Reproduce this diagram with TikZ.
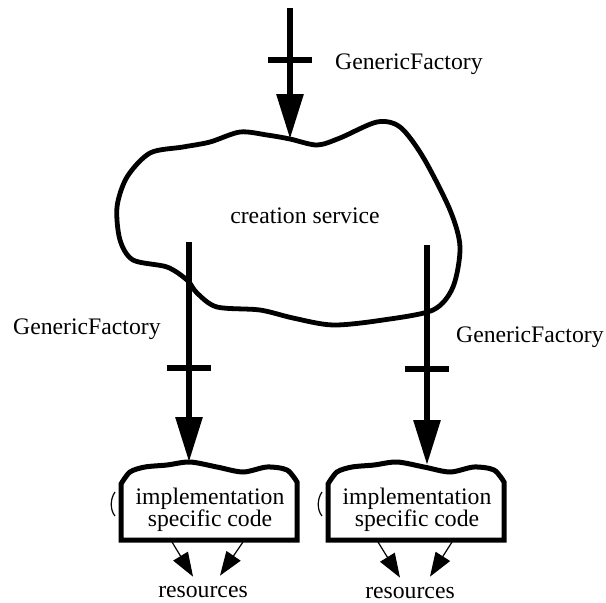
\documentclass[tikz,border=0pt]{standalone}
\usepackage{fontspec}
\setmainfont{Liberation Serif}
\usetikzlibrary{arrows.meta}
\tikzset{
    iface/.style = {
        line width=6pt,
        -{Triangle[length=45pt,width=26pt]}
    },
    crossbar/.style = {
        rectangle, fill=black, inner sep=0pt,
        minimum width=44pt, minimum height=6pt
    },
    cloudline/.style = {
        line width=4.8pt, line join=round
    },
    boxline/.style = {
        line width=5pt
    },
    resarrow/.style = {
        line width=1.2pt,
        -{Triangle[length=24pt,width=17pt]}
    },
    txt/.style = {
        font=\fontsize{23.7}{22}\selectfont,
        inner sep=0pt, align=center
    }
}

\begin{document}
\begin{tikzpicture}[x=1pt, y=-1pt]
\useasboundingbox (0,0) rectangle (606,603);

% creation service cloud
\draw [cloudline] plot[smooth cycle] coordinates {
    (290,139) (317,145) (340,138) (377,122) (400,127) (423,157) (450,210)
    (460,247) (453,287) (433,310) (383,320) (333,325) (293,318) (260,310)
    (217,307) (197,293) (187,280) (167,267) (133,260) (120,240) (117,207)
    (127,177) (150,153) (183,147) (210,142) (240,132) (267,135)};
\node (creation) [txt, anchor=base] at (305,223) {creation service};

% implementation boxes
\draw [boxline] (121,540) -- (121,484) -- plot[smooth] coordinates {
    (121,484) (130,472) (145,467) (167,465) (190,462) (217,467)
    (243,472) (267,467) (287,470) (297,482)} -- (297,540) -- cycle;
\draw [line width=1.2pt] (115,492) .. controls (110,499) and (110,510) .. (115,516);
\node (implL) [txt] at (210,510) {implementation\\specific code};

\begin{scope}[xshift=207pt]
\draw [boxline] (121,540) -- (121,484) -- plot[smooth] coordinates {
    (121,484) (130,472) (145,467) (167,465) (190,462) (217,467)
    (243,472) (267,467) (287,470) (297,482)} -- (297,540) -- cycle;
\draw [line width=1.2pt] (115,492) .. controls (110,499) and (110,510) .. (115,516);
\end{scope}
\node (implR) [txt] at (417,510) {implementation\\specific code};

% resources
\node (resL) [txt, anchor=base] at (203,597) {resources};
\node (resR) [txt, anchor=base] at (410,598) {resources};

\coordinate (in) at (290,8);
\coordinate (cloudtop) at (290,139);
\coordinate (outL) at (189,242);
\coordinate (outR) at (427,245);
\coordinate (boxLtop) at (189,462);
\coordinate (boxRtop) at (427,465);

% GenericFactory interfaces
\draw [iface] (in) -- node[pos=0.397, crossbar] (barT) {} (cloudtop);
\draw [iface] (outL) -- node[pos=0.573, crossbar] (barL) {} (boxLtop);
\draw [iface] (outR) -- node[pos=0.564, crossbar] (barR) {} (boxRtop);

\node (gfT) [txt, anchor=base west] at (335,69) {GenericFactory};
\node (gfL) [txt, anchor=base west] at (13,334) {GenericFactory};
\node (gfR) [txt, anchor=base west] at (456,342) {GenericFactory};

% resource arrows
\coordinate (rL1) at (172,542);
\coordinate (rL2) at (243,542);
\coordinate (rR1) at (378,542);
\coordinate (rR2) at (452,542);
\draw [resarrow] (rL1) -- ([xshift=-10pt,yshift=9pt]resL.north);
\draw [resarrow] (rL2) -- ([xshift=17pt,yshift=10pt]resL.north);
\draw [resarrow] (rR1) -- ([xshift=-10pt,yshift=9pt]resR.north);
\draw [resarrow] (rR2) -- ([xshift=20pt,yshift=10pt]resR.north);

\end{tikzpicture}
\end{document}
